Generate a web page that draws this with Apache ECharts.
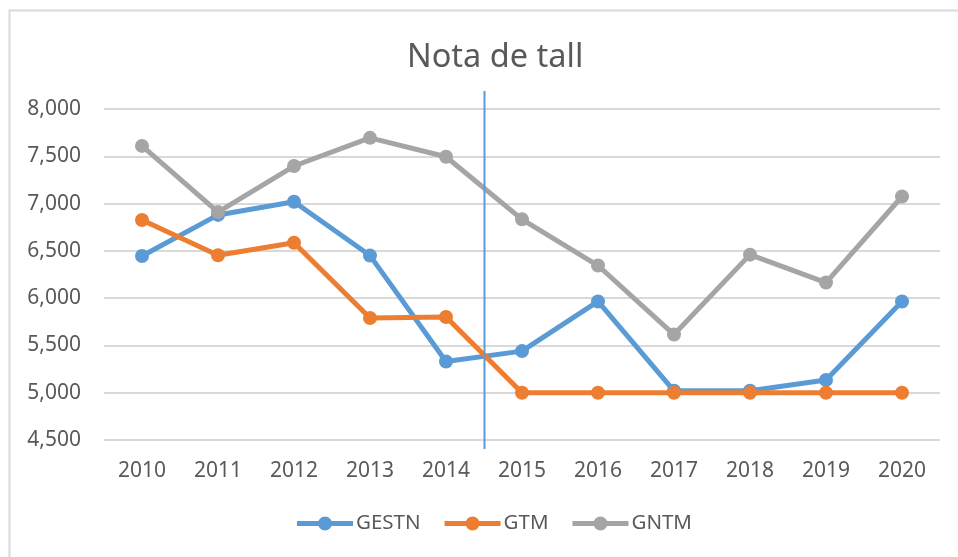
<!DOCTYPE html>
<html><head><meta charset="utf-8">
<script src="https://cdn.jsdelivr.net/npm/echarts@6/dist/echarts.min.js"></script>
<style>html,body{margin:0;padding:0;background:#fff}#c{width:958px;height:557px}</style>
</head><body><div id="c"></div>
<script>
const categories = ['2010','2011','2012','2013','2014','2015','2016','2017','2018','2019','2020'];
const gestn = [6.446, 6.88, 7.02, 6.45, 5.33, 5.44, 5.965, 5.02, 5.02, 5.135, 5.965];
const gtm   = [6.826, 6.453, 6.585, 5.79, 5.80, 5.00, 5.00, 5.00, 5.00, 5.00, 5.00];
const gntm  = [7.61, 6.91, 7.397, 7.695, 7.495, 6.833, 6.345, 5.615, 6.46, 6.165, 7.075];
const seriesNames = ['GESTN','GTM','GNTM'];
const colors = ['#5B9BD5','#ED7D31','#A5A5A5'];
const font = "'Noto Sans', 'Open Sans', sans-serif";
const legendIcon = 'path://M0,4.5 L56,4.5 L56,9.5 L0,9.5 Z M21,7 A7,7 0 1,1 35,7 A7,7 0 1,1 21,7 Z';

const chart = echarts.init(document.getElementById('c'));
const mk = (name, data, color) => ({
  name, type: 'line', data, color,
  symbol: 'circle', symbolSize: 14,
  lineStyle: { width: 5, color },
  itemStyle: { color },
  emphasis: { disabled: true }, z: 3
});
chart.setOption({
  animation: false,
  title: { text: 'Nota de tall', left: 402, top: 36,
    textStyle: { fontFamily: font, fontSize: 32.5, fontWeight: 'normal', color: '#595959' } },
  legend: { bottom: 18, left: 292, itemWidth: 56, itemHeight: 14, itemGap: 24,
    icon: legendIcon,
    itemStyle: { borderWidth: 0 },
    textStyle: { fontFamily: font, fontSize: 20.5, color: '#595959', padding: [0,0,0,-2] },
    data: seriesNames },
  grid: { left: 104, right: 18, top: 109, bottom: 117 },
  xAxis: { type: 'category', data: categories, boundaryGap: true,
    axisLine: { show: false }, axisTick: { show: false },
    axisLabel: { fontFamily: font, fontSize: 21, color: '#595959', margin: 21 } },
  yAxis: { type: 'value', min: 4.5, max: 8, interval: 0.5,
    axisLine: { show: false }, axisTick: { show: false },
    splitLine: { lineStyle: { color: '#d9d9d9', width: 2 } },
    axisLabel: { fontFamily: font, fontSize: 21, color: '#595959', margin: 23,
      formatter: v => v.toFixed(3).replace('.', ',') } },
  series: [mk(seriesNames[0], gestn, colors[0]), mk(seriesNames[1], gtm, colors[1]), mk(seriesNames[2], gntm, colors[2])]
});
const x1 = chart.convertToPixel({ xAxisIndex: 0 }, '2014');
const x2 = chart.convertToPixel({ xAxisIndex: 0 }, '2015');
const yTop = chart.convertToPixel({ yAxisIndex: 0 }, 8);
const yBot = chart.convertToPixel({ yAxisIndex: 0 }, 4.5);
const xm = Math.round((x1 + x2) / 2) + 0.5;
chart.setOption({ graphic: [
  { type: 'rect', shape: { x: 9.5, y: 10.5, width: 1000, height: 1000 }, style: { fill: 'none', stroke: '#d9d9d9', lineWidth: 2 }, silent: true, z: -1 },
  { type: 'line', shape: { x1: xm, y1: yTop - 18, x2: xm, y2: yBot + 9 }, style: { stroke: '#5B9BD5', lineWidth: 2 }, z: 100 }
] });
</script></body></html>
